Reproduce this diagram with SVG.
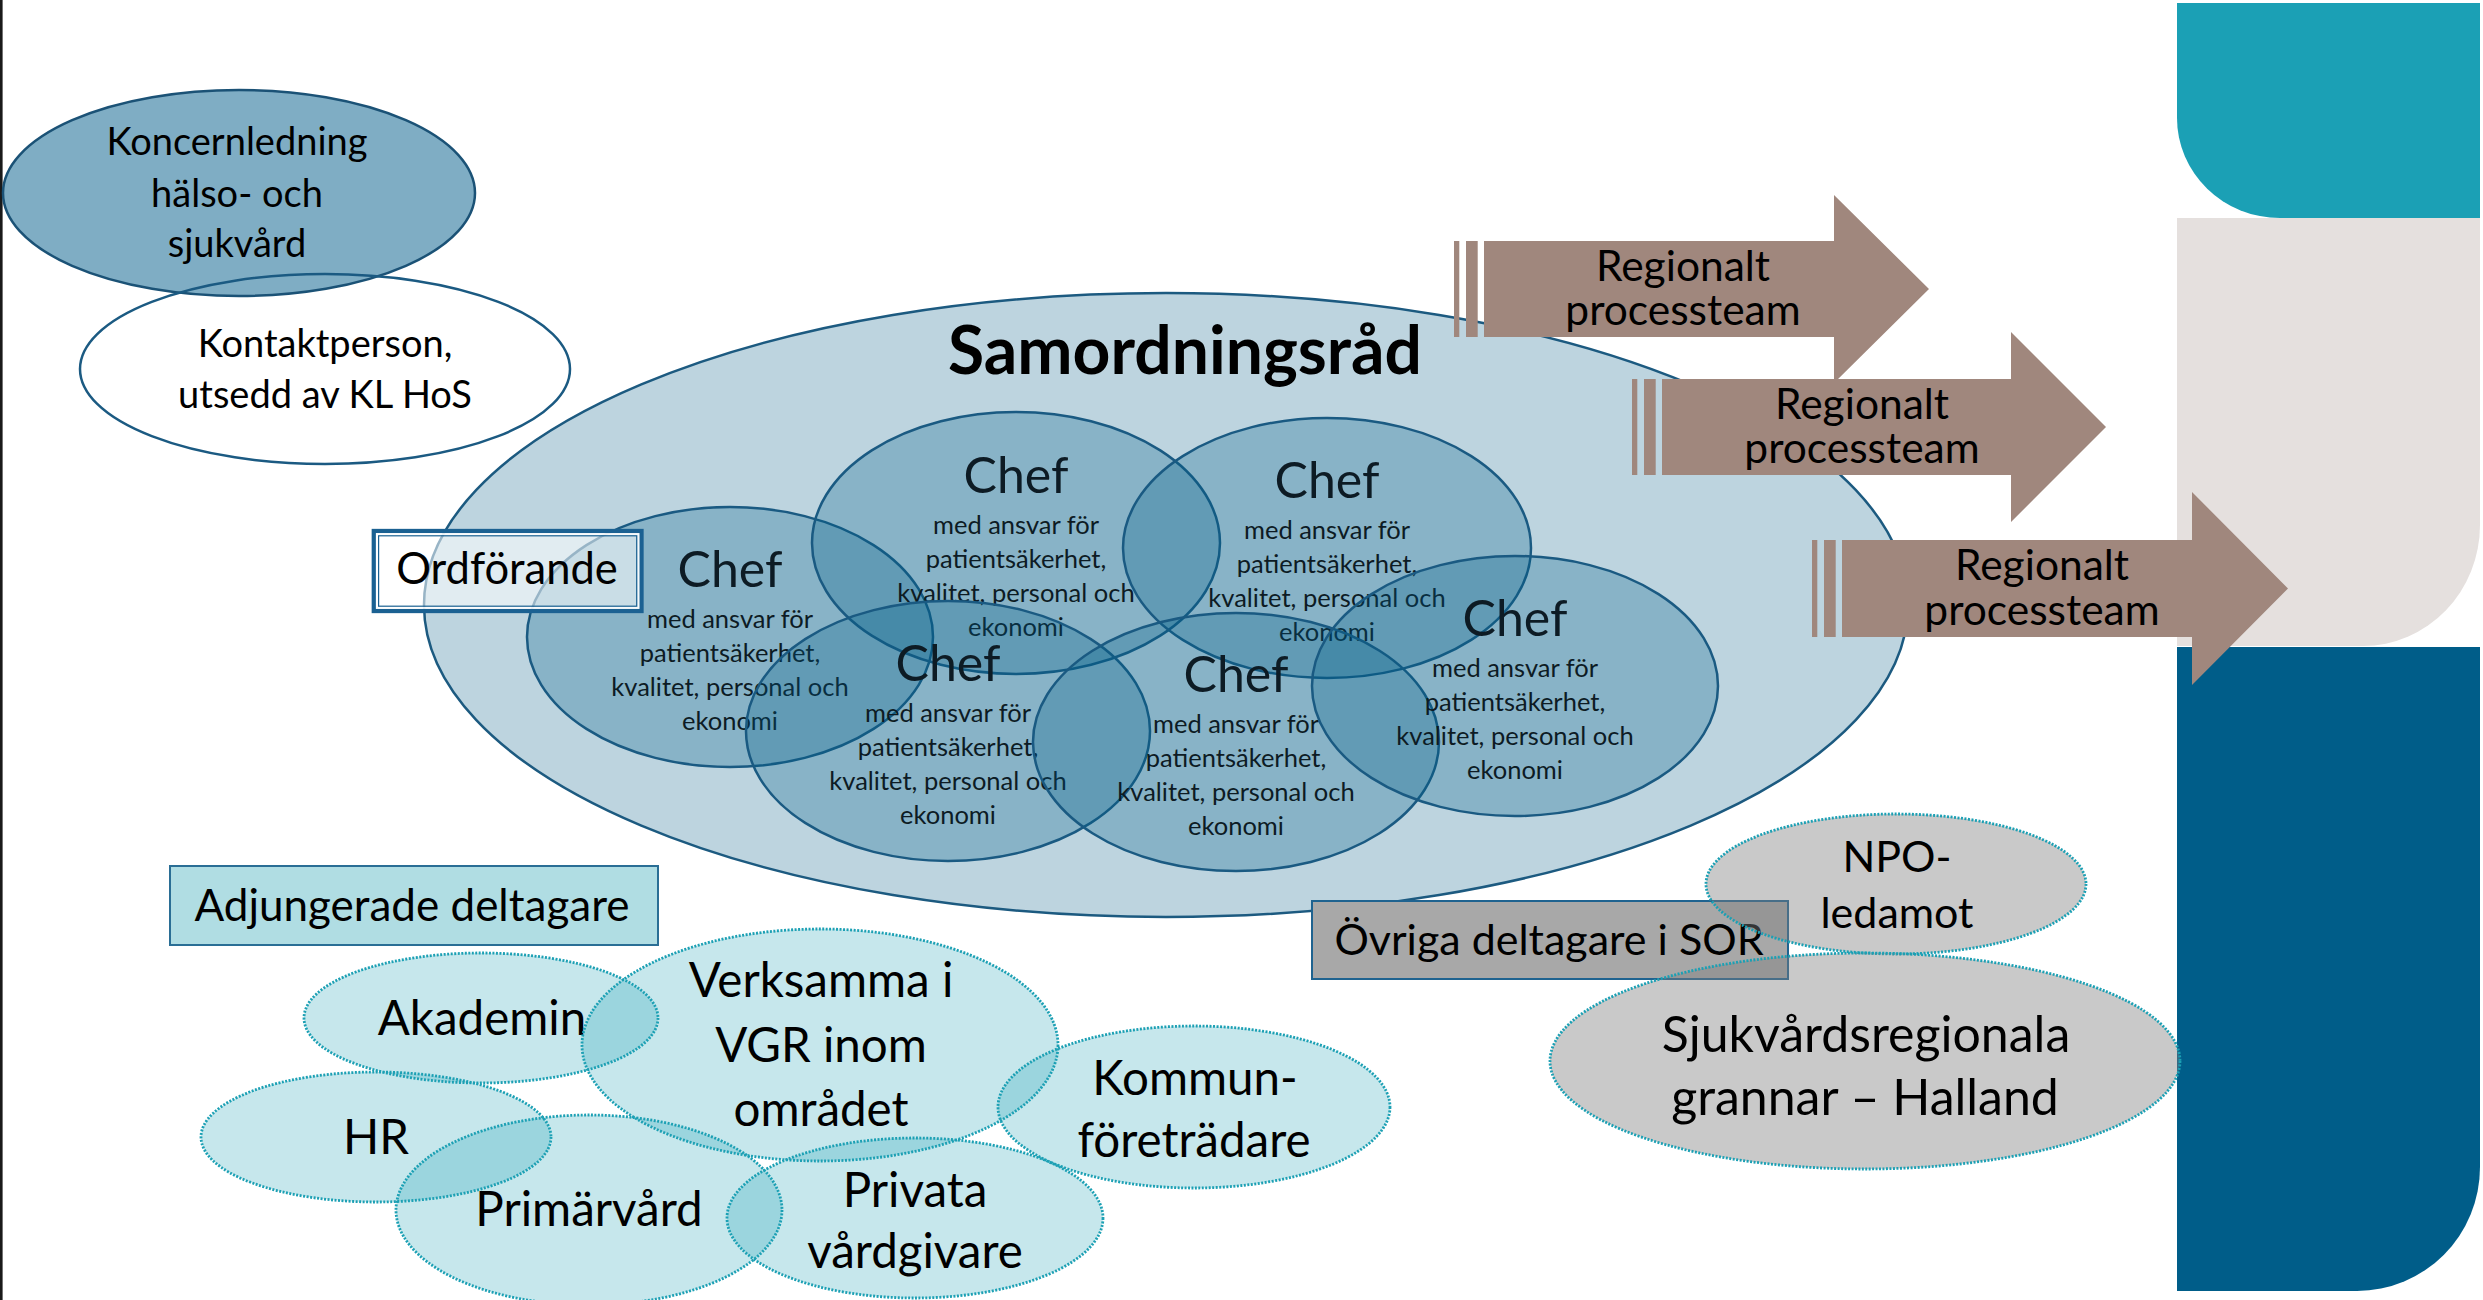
<svg xmlns="http://www.w3.org/2000/svg" width="2483" height="1300" viewBox="0 0 2483 1300">
<style>
text{font-family:Lato,"Liberation Sans",sans-serif;fill:#000;text-anchor:middle}
.chefE{fill:#005C8A;fill-opacity:0.28;stroke:#1A5A82;stroke-width:2.5}
.chefT{font-size:50px;fill:#0d1b24}
.chefS{font-size:25.5px;fill:#0d1b24}
.dot{fill:#1CA0B4;fill-opacity:0.25;stroke:#1CA0B4;stroke-width:2.8;stroke-dasharray:2 1.5}
.gdot{fill:#7F7F7F;fill-opacity:0.42;stroke:#1CA0B4;stroke-width:2.8;stroke-dasharray:2 1.5}
.arrow{fill:#A0877D}
.lbl{font-size:47.5px}
.rt{font-size:42.5px}
</style>
<rect x="0" y="0" width="2483" height="1300" fill="#ffffff"/>
<rect x="0" y="0" width="2.6" height="1300" fill="#1a1a1a"/>

<g id="panels">
<path d="M2177,3 H2480 V218 H2280 A103,100 0 0 1 2177,118 Z" fill="#1BA0B5"/>
<path d="M2177,218 H2480 V525 A117,121 0 0 1 2363,646 H2177 Z" fill="#E5E0DE"/>
<path d="M2177,647 H2480 V1167 A123,124 0 0 1 2357,1291 H2177 Z" fill="#005D89"/>
</g>

<g id="koncernledning">
<ellipse cx="239" cy="193" rx="236" ry="103" fill="#005C8A" fill-opacity="0.5" stroke="#1B5276" stroke-width="2.5"/>
<text x="237" y="155" font-size="38">Koncernledning</text>
<text x="237" y="207" font-size="38">hälso- och</text>
<text x="237" y="257" font-size="38">sjukvård</text>
</g>

<g id="kontaktperson">
<ellipse cx="325" cy="369" rx="245" ry="95" fill="none" stroke="#1B5A82" stroke-width="2.5"/>
<text x="325" y="357" font-size="38">Kontaktperson,</text>
<text x="325" y="408" font-size="38">utsedd av KL HoS</text>
</g>

<g id="samordningsrad">
<ellipse cx="1166" cy="605" rx="742" ry="312" fill="#BDD4DF" stroke="#1C5A80" stroke-width="2.5"/>
<text x="1185" y="374" font-size="66" font-weight="bold">Samordningsråd</text>
</g>

<g id="chef1">
<ellipse class="chefE" cx="730" cy="637" rx="203" ry="130"/>
<text class="chefT" x="730" y="587">Chef</text>
<text class="chefS" x="730" y="628">med ansvar för<tspan x="730" dy="34">patientsäkerhet,</tspan><tspan x="730" dy="34">kvalitet, personal och</tspan><tspan x="730" dy="34">ekonomi</tspan></text>
</g>
<g id="chef2">
<ellipse class="chefE" cx="1016" cy="543" rx="204" ry="131"/>
<text class="chefT" x="1016" y="493">Chef</text>
<text class="chefS" x="1016" y="534">med ansvar för<tspan x="1016" dy="34">patientsäkerhet,</tspan><tspan x="1016" dy="34">kvalitet, personal och</tspan><tspan x="1016" dy="34">ekonomi</tspan></text>
</g>
<g id="chef3">
<ellipse class="chefE" cx="1327" cy="548" rx="204" ry="130"/>
<text class="chefT" x="1327" y="498">Chef</text>
<text class="chefS" x="1327" y="539">med ansvar för<tspan x="1327" dy="34">patientsäkerhet,</tspan><tspan x="1327" dy="34">kvalitet, personal och</tspan><tspan x="1327" dy="34">ekonomi</tspan></text>
</g>
<g id="chef4">
<ellipse class="chefE" cx="948" cy="731" rx="202" ry="130"/>
<text class="chefT" x="948" y="681">Chef</text>
<text class="chefS" x="948" y="722">med ansvar för<tspan x="948" dy="34">patientsäkerhet,</tspan><tspan x="948" dy="34">kvalitet, personal och</tspan><tspan x="948" dy="34">ekonomi</tspan></text>
</g>
<g id="chef5">
<ellipse class="chefE" cx="1236" cy="742" rx="203" ry="129"/>
<text class="chefT" x="1236" y="692">Chef</text>
<text class="chefS" x="1236" y="733">med ansvar för<tspan x="1236" dy="34">patientsäkerhet,</tspan><tspan x="1236" dy="34">kvalitet, personal och</tspan><tspan x="1236" dy="34">ekonomi</tspan></text>
</g>
<g id="chef6">
<ellipse class="chefE" cx="1515" cy="686" rx="203" ry="130"/>
<text class="chefT" x="1515" y="636">Chef</text>
<text class="chefS" x="1515" y="677">med ansvar för<tspan x="1515" dy="34">patientsäkerhet,</tspan><tspan x="1515" dy="34">kvalitet, personal och</tspan><tspan x="1515" dy="34">ekonomi</tspan></text>
</g>

<g id="ordforande">
<rect x="373.8" y="531" width="267.7" height="80" fill="#ffffff" fill-opacity="0.55" stroke="#1B6192" stroke-width="4.3"/>
<rect x="376.9" y="534.1" width="261.5" height="73.8" fill="none" stroke="#ffffff" stroke-width="2" stroke-opacity="0.85"/>
<rect x="378.6" y="535.8" width="258.1" height="70.4" fill="none" stroke="#1B6192" stroke-width="1.2"/>
<text x="507" y="584" font-size="43.5">Ordförande</text>
</g>

<g id="arrow1">
<rect class="arrow" x="1454" y="241" width="5.3" height="96"/>
<rect class="arrow" x="1466" y="241" width="11.7" height="96"/>
<path class="arrow" d="M1484,241 H1834 V195 L1929,289 L1834,383 V337 H1484 Z"/>
<text class="rt" x="1683" y="281">Regionalt<tspan x="1683" dy="44">processteam</tspan></text>
</g>
<g id="arrow2">
<rect class="arrow" x="1632" y="379" width="5.3" height="96"/>
<rect class="arrow" x="1644" y="379" width="11.7" height="96"/>
<path class="arrow" d="M1662,379 H2011 V332 L2106,427 L2011,522 V475 H1662 Z"/>
<text class="rt" x="1862" y="419">Regionalt<tspan x="1862" dy="44">processteam</tspan></text>
</g>
<g id="arrow3">
<rect class="arrow" x="1812" y="540" width="5.3" height="97"/>
<rect class="arrow" x="1824" y="540" width="11.7" height="97"/>
<path class="arrow" d="M1842,540 H2192 V492 L2288,588.5 L2192,685 V637 H1842 Z"/>
<text class="rt" x="2042" y="580">Regionalt<tspan x="2042" dy="45">processteam</tspan></text>
</g>

<g id="adjungerade">
<rect x="170" y="866" width="488" height="79" fill="#B0DDE3" stroke="#2A6E95" stroke-width="2"/>
<text x="412" y="921" font-size="44">Adjungerade deltagare</text>
</g>

<g id="akademin">
<ellipse class="dot" cx="481" cy="1018" rx="177" ry="65"/>
<text class="lbl" x="482" y="1035">Akademin</text>
</g>
<g id="verksamma">
<ellipse class="dot" cx="820" cy="1045" rx="238" ry="116"/>
<text class="lbl" x="821" y="997">Verksamma i<tspan x="821" dy="65">VGR inom</tspan><tspan x="821" dy="64">området</tspan></text>
</g>
<g id="hr">
<ellipse class="dot" cx="376" cy="1137" rx="175" ry="65"/>
<text class="lbl" x="376" y="1154">HR</text>
</g>
<g id="primarvard">
<ellipse class="dot" cx="589" cy="1210" rx="193" ry="95"/>
<text class="lbl" x="589" y="1226">Primärvård</text>
</g>
<g id="privata">
<ellipse class="dot" cx="915" cy="1218" rx="188" ry="80"/>
<text class="lbl" x="915" y="1207">Privata<tspan x="915" dy="61">vårdgivare</tspan></text>
</g>
<g id="kommun">
<ellipse class="dot" cx="1194" cy="1107" rx="196" ry="81"/>
<text class="lbl" x="1195" y="1095" font-size="46.5">Kommun-<tspan x="1194" dy="62">företrädare</tspan></text>
</g>

<g id="ovriga">
<rect x="1312" y="901" width="476" height="78" fill="#A8A8A8" stroke="#1F6390" stroke-width="2"/>
<text x="1549" y="955" font-size="43">Övriga deltagare i SOR</text>
</g>
<g id="npo">
<ellipse class="gdot" cx="1896" cy="884" rx="190" ry="70"/>
<text x="1897" y="872" font-size="43">NPO-<tspan x="1897" dy="56">ledamot</tspan></text>
</g>
<g id="sjukvardsregionala">
<ellipse class="gdot" cx="1865" cy="1061" rx="315" ry="108"/>
<text x="1866" y="1052" font-size="50">Sjukvårdsregionala<tspan x="1865" dy="63">grannar – Halland</tspan></text>
</g>

<g id="connectors"></g>
</svg>
